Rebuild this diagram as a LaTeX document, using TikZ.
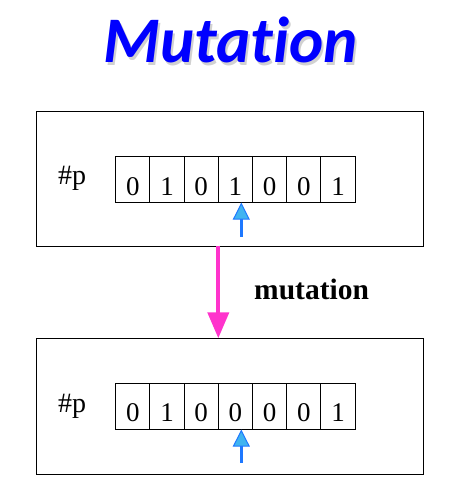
\documentclass[tikz,border=0pt]{standalone}
\usepackage{fontspec}
\setmainfont{Liberation Serif}
\newfontfamily\titlefont[Ligatures={NoCommon,NoContextual,NoRare}]{Carlito}
\usetikzlibrary{arrows.meta}
\definecolor{titleblue}{HTML}{0000FF}
\definecolor{pinkarrow}{HTML}{FF33CC}
\definecolor{ptrblue}{HTML}{1E78FF}
\definecolor{ptrfill}{HTML}{40B4F0}
\newcommand{\mytitleword}{Mutat\kern0pt ion}
\begin{document}
\begin{tikzpicture}[x=1pt,y=-1pt,
  panel/.style={draw=black, line width=1pt, minimum width=386.6pt, minimum height=135pt, inner sep=0pt},
  cell/.style={draw=black, line width=1pt, minimum width=34.2pt, minimum height=45.5pt, inner sep=0pt},
  digit/.style={anchor=base, font=\fontsize{27}{27}\selectfont, inner sep=0pt},
  plabel/.style={anchor=base west, font=\fontsize{28}{28}\selectfont, inner sep=0pt},
  ptr/.style={draw=ptrblue, line width=2.5pt, -{Triangle[length=17pt,width=17pt,fill=ptrfill,line width=1pt]}},
  mutarrow/.style={draw=pinkarrow, line width=4pt, -{Triangle[length=26pt,width=21pt]}},
  titletext/.style={anchor=base, font=\titlefont\bfseries\itshape\fontsize{65}{65}\selectfont, inner sep=0pt}
]
\useasboundingbox (0,0) rectangle (457,497);
% title with soft shadow
\node[titletext, text=black!18] (titleshadow) at (232.5,65.5) {\mytitleword};
\node[titletext, text=titleblue] (title) at (230.5,63) {\mytitleword};
% panels
\node[panel] (box1) at (230,179.2) {};
\node[panel, minimum height=136pt] (box2) at (230,406.3) {};
% labels
\node[plabel] (p1) at (58,184) {\#p};
\node[plabel] (p2) at (58,412) {\#p};
% cells
\foreach \i/\a/\b in {1/0/0,2/1/1,3/0/0,4/1/0,5/0/0,6/0/0,7/1/1}{
  \pgfmathsetmacro{\cx}{115.7+34.2*(\i-0.5)}
  \node[cell] (c\i) at (\cx,179.35) {};
  \node[digit] (ca\i) at (\cx,195.7) {\a};
  \node[cell] (d\i) at (\cx,406.3) {};
  \node[digit] (da\i) at (\cx,421.7) {\b};
}
% pointers
\coordinate (t1) at (241.3,236.7);
\coordinate (t2) at (241.3,462.7);
\draw[ptr] (t1) -- (c4.south -| t1);
\draw[ptr] (t2) -- (d4.south -| t2);
% mutation arrow
\coordinate (ms) at (218.3,245.5);
\coordinate (me) at (218.3,338.3);
\draw[mutarrow] (ms) -- (me);
\node[anchor=base west, font=\bfseries\fontsize{29.5}{29.5}\selectfont, inner sep=0pt] (mlabel) at (254,299) {mutation};
\end{tikzpicture}
\end{document}
